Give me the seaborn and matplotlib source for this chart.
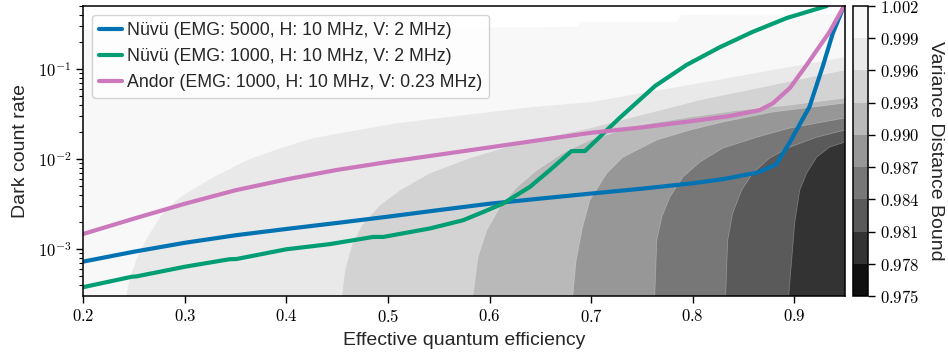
import numpy as np
import pandas as pd
import matplotlib
matplotlib.use("Agg")
import matplotlib.pyplot as plt
import seaborn as sns
from matplotlib.colors import BoundaryNorm, ListedColormap
from matplotlib.cm import ScalarMappable
from matplotlib.ticker import FixedLocator, FuncFormatter, LogLocator, NullFormatter

# ---------------- data ----------------
series_names = [
    "Nüvü (EMG: 5000, H: 10 MHz, V: 2 MHz)",
    "Nüvü (EMG: 1000, H: 10 MHz, V: 2 MHz)",
    "Andor (EMG: 1000, H: 10 MHz, V: 0.23 MHz)",
]

nuvu5000_eff = [0.2, 0.25, 0.3, 0.35, 0.4, 0.45, 0.5, 0.55, 0.6, 0.65, 0.7, 0.75, 0.8,
                0.83, 0.864, 0.882, 0.896, 0.906, 0.915, 0.928, 0.938, 0.949]
nuvu5000_dark = [7.3e-4, 9.4e-4, 1.18e-3, 1.43e-3, 1.68e-3, 1.96e-3, 2.3e-3, 2.72e-3,
                 3.2e-3, 3.65e-3, 4.15e-3, 4.7e-3, 5.4e-3, 6.0e-3, 7.1e-3, 8.7e-3,
                 1.56e-2, 2.5e-2, 3.8e-2, 0.106, 0.249, 0.5]

nuvu1000_eff = [0.2, 0.2476, 0.2524, 0.3, 0.344, 0.351, 0.4, 0.4427, 0.4854, 0.4953,
                0.5411, 0.574, 0.5937, 0.6134, 0.6397, 0.6594, 0.6807, 0.694, 0.728,
                0.763, 0.794, 0.827, 0.859, 0.893, 0.932]
nuvu1000_dark = [3.8e-4, 4.95e-4, 5.0e-4, 6.4e-4, 7.75e-4, 7.8e-4, 1.0e-3, 1.14e-3,
                 1.37e-3, 1.37e-3, 1.70e-3, 2.10e-3, 2.59e-3, 3.22e-3, 4.92e-3, 7.55e-3,
                 1.228e-2, 1.23e-2, 2.86e-2, 6.48e-2, 0.111, 0.175, 0.258, 0.369, 0.5]

andor_eff = [0.2, 0.25, 0.3, 0.35, 0.4, 0.45, 0.5, 0.55, 0.6, 0.65, 0.7, 0.75, 0.8,
             0.836, 0.866, 0.879, 0.896, 0.912, 0.935, 0.949]
andor_dark = [1.48e-3, 2.19e-3, 3.2e-3, 4.52e-3, 5.96e-3, 7.6e-3, 9.3e-3, 1.12e-2,
              1.35e-2, 1.63e-2, 1.96e-2, 2.25e-2, 2.65e-2, 3.0e-2, 3.5e-2, 4.16e-2,
              6.2e-2, 0.11, 0.26, 0.5]

# colour-bar levels of the variance distance bound
levels = [0.975, 0.978, 0.981, 0.984, 0.987, 0.990, 0.993, 0.996, 0.999, 1.002]

# level-set boundaries of the background field (efficiency, dark count)
bound_1002_eff = [0.2, 0.686, 0.691, 0.784, 0.789, 0.95]
bound_1002_dark = [0.271, 0.293, 0.333, 0.333, 0.398, 0.408]

bound_0999_eff = [0.242, 0.246, 0.253, 0.263, 0.278, 0.295, 0.328, 0.361, 0.394, 0.426,
                  0.453, 0.509, 0.574, 0.640, 0.699, 0.807, 0.95]
bound_0999_dark = [3.03e-4, 4.89e-4, 8.15e-4, 1.36e-3, 2.51e-3, 3.78e-3, 6.31e-3, 9.75e-3,
                   1.325e-2, 1.71e-2, 1.95e-2, 2.51e-2, 3.08e-2, 3.78e-2, 4.30e-2, 6.99e-2,
                   0.136]

bound_0996_eff = [0.4546, 0.4575, 0.4644, 0.4743, 0.4920, 0.5117, 0.5412, 0.5806, 0.6298,
                  0.6988, 0.8070, 0.95]
bound_0996_dark = [3.03e-4, 5.85e-4, 1.11e-3, 1.85e-3, 3.08e-3, 4.53e-3, 6.99e-3, 1.03e-2,
                   1.51e-2, 2.21e-2, 4.53e-2, 9.75e-2]

bound_0993_eff = [0.5836, 0.5885, 0.5973, 0.6101, 0.6269, 0.6466, 0.6722, 0.6988, 0.7480,
                  0.7972, 0.8464, 0.8956, 0.95]
bound_0993_dark = [3.03e-4, 8.15e-4, 1.63e-3, 2.93e-3, 4.89e-3, 7.55e-3, 1.17e-2, 1.63e-2,
                   2.39e-2, 2.93e-2, 3.50e-2, 3.98e-2, 4.76e-2]

bound_0990_eff = [0.682, 0.685, 0.6913, 0.6988, 0.7155, 0.7313, 0.7647, 0.7972, 0.8297,
                  0.8789, 0.95]
bound_0990_dark = [3.03e-4, 7.17e-4, 1.71e-3, 3.50e-3, 6.99e-3, 1.05e-2, 1.63e-2, 2.10e-2,
                   2.58e-2, 3.33e-2, 4.19e-2]

bound_0987_eff = [0.7627, 0.7647, 0.7696, 0.7775, 0.7903, 0.8070, 0.8297, 0.8631, 0.8956,
                  0.95]
bound_0987_dark = [3.03e-4, 1.26e-3, 2.27e-3, 3.78e-3, 6.31e-3, 9.26e-3, 1.325e-2, 1.75e-2,
                   2.21e-2, 2.86e-2]

bound_0984_eff = [0.8325, 0.8345, 0.8394, 0.8483, 0.8591, 0.8758, 0.8956, 0.9221, 0.95]
bound_0984_dark = [3.03e-4, 1.26e-3, 2.51e-3, 4.53e-3, 6.99e-3, 1.03e-2, 1.36e-2, 1.75e-2,
                   2.10e-2]

bound_0981_eff = [0.8946, 0.9005, 0.9054, 0.9123, 0.9221, 0.9349, 0.95]
bound_0981_dark = [3.03e-4, 1.95e-3, 4.53e-3, 6.99e-3, 1.05e-2, 1.36e-2, 1.545e-2]

xticks = [0.2, 0.3, 0.4, 0.5, 0.6, 0.7, 0.8, 0.9]
yticks = [1e-3, 1e-2, 1e-1]
ytick_labels = [r"$10^{-3}$", r"$10^{-2}$", r"$10^{-1}$"]

# ---------------- style ----------------
sns.set_theme(style="ticks")
plt.rcParams["font.family"] = ["Liberation Sans", "DejaVu Sans"]
plt.rcParams["mathtext.fontset"] = "cm"
plt.rcParams["axes.edgecolor"] = "black"
plt.rcParams["xtick.color"] = "black"
plt.rcParams["ytick.color"] = "black"

palette = sns.color_palette("colorblind")
line_colors = [palette[0], palette[2], palette[4]]

W, H = 948, 355
fig = plt.figure(figsize=(W / 100, H / 100), dpi=100)
ax = fig.add_axes([83.3 / W, 1 - 296 / H, (845 - 83.3) / W, 290 / H])
cax = fig.add_axes([853 / W, 1 - 296 / H, 15 / W, 290 / H])

ax.set_yscale("log")
ax.set_xlim(0.2, 0.95)
ax.set_ylim(3.03e-4, 0.5)

# ---------------- background bands ----------------
nb = len(levels) - 1
base = plt.get_cmap("Greys_r")
cmap = ListedColormap([base((i + 0.5) / nb) for i in range(nb)])
norm = BoundaryNorm(levels, nb)

boundaries = [
    (1.002, bound_1002_eff, bound_1002_dark),
    (0.999, bound_0999_eff, bound_0999_dark),
    (0.996, bound_0996_eff, bound_0996_dark),
    (0.993, bound_0993_eff, bound_0993_dark),
    (0.990, bound_0990_eff, bound_0990_dark),
    (0.987, bound_0987_eff, bound_0987_dark),
    (0.984, bound_0984_eff, bound_0984_dark),
    (0.981, bound_0981_eff, bound_0981_dark),
]
ylow = 1e-4
for lvl, bx, by in boundaries:
    col = cmap(norm(lvl - 0.0015))
    if bx[0] <= 0.2:
        xs = [0.1] + list(bx) + [1.0, 1.0, 0.1]
        ys = [by[0]] + list(by) + [by[-1], ylow, ylow]
    else:
        xs = [bx[0]] + list(bx) + [1.0, 1.0]
        ys = [ylow] + list(by) + [by[-1], ylow]
    ax.fill(xs, ys, color=col, lw=0, zorder=1)
    ax.plot(bx, by, color="white", lw=0.5, alpha=0.3, zorder=1.5)

# ---------------- lines ----------------
frames = []
for name, ex, dk in zip(series_names,
                        [nuvu5000_eff, nuvu1000_eff, andor_eff],
                        [nuvu5000_dark, nuvu1000_dark, andor_dark]):
    frames.append(pd.DataFrame({"eff": ex, "dark": dk, "camera": name}))
df = pd.concat(frames, ignore_index=True)

for name, col in zip(series_names, line_colors):
    sub = df[df["camera"] == name]
    sns.lineplot(data=sub, x="eff", y="dark", ax=ax, color=col, lw=3,
                 estimator=None, sort=False, label=name, zorder=3)

ax.set_xlim(0.2, 0.95)
ax.set_ylim(3.03e-4, 0.5)

leg = ax.legend(loc="upper left", fontsize=12.8, handlelength=1.25,
                handletextpad=0.3, labelspacing=0.5, borderpad=0.4,
                frameon=True, fancybox=True, framealpha=0.85)
leg.get_frame().set_edgecolor("#cccccc")

# ---------------- axes cosmetics ----------------
ax.xaxis.set_major_locator(FixedLocator(xticks))
ax.xaxis.set_major_formatter(FuncFormatter(lambda v, p: r"$%.1f$" % v))
ax.yaxis.set_major_locator(FixedLocator(yticks))
ax.yaxis.set_major_formatter(FuncFormatter(
    lambda v, p: ytick_labels[yticks.index(min(yticks, key=lambda t: abs(np.log10(t) - np.log10(v))))]))
ax.yaxis.set_minor_locator(LogLocator(base=10, subs=np.arange(2, 10)))
ax.yaxis.set_minor_formatter(NullFormatter())
ax.tick_params(axis="both", which="major", labelsize=12, length=5, width=1, direction="out")
ax.tick_params(axis="y", which="minor", length=3, width=0.8, direction="out")
for s in ax.spines.values():
    s.set_linewidth(1.1)
    s.set_color("black")
    s.set_zorder(5)

ax.set_xlabel("Effective quantum efficiency", fontsize=14, labelpad=5)
ax.set_ylabel("Dark count rate", fontsize=14, labelpad=6)

# ---------------- colour bar ----------------
sm = ScalarMappable(norm=norm, cmap=cmap)
cb = fig.colorbar(sm, cax=cax, ticks=levels, spacing="proportional")
cb.ax.yaxis.set_major_formatter(FuncFormatter(lambda v, p: r"$%.3f$" % v))
cb.ax.tick_params(labelsize=12, length=5, width=1, direction="out")
cb.outline.set_linewidth(1.1)
cb.outline.set_edgecolor("black")
cb.set_label("Variance Distance Bound", fontsize=14, rotation=270, labelpad=18)

fig.savefig("out.png", dpi=100)
